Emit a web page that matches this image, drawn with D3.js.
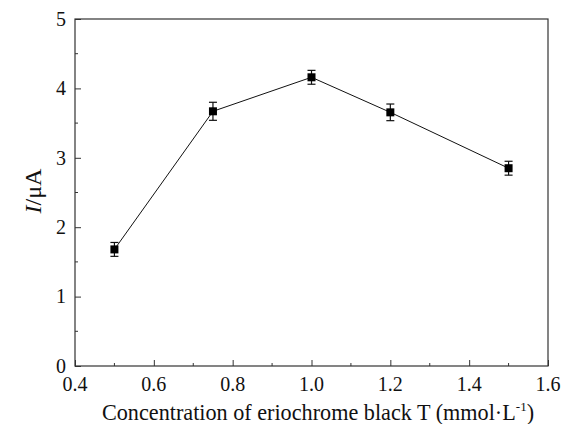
<!DOCTYPE html>
<html>
<head>
<meta charset="utf-8">
<script src="https://cdn.jsdelivr.net/npm/d3@7"></script>
<style>
  body { margin: 0; background: #fff; }
  svg { display: block; }
  .lbl { font-family: "Liberation Serif", serif; font-size: 20px; fill: #111; }
</style>
</head>
<body>
<script>
// concentration of EBT (mmol/L) and peak current (uA)
var conc = [0.5, 0.75, 1.0, 1.2, 1.5];
var current = [1.68, 3.67, 4.16, 3.655, 2.85];
var errs = [0.1, 0.13, 0.1, 0.12, 0.1];
var xTicks = [0.4, 0.6, 0.8, 1.0, 1.2, 1.4, 1.6];
var yTicks = [0, 1, 2, 3, 4, 5];

var width = 570,
    height = 424,
    margin = {top: 19, right: 22, bottom: 58, left: 75};

var x = d3.scaleLinear().domain([0.4, 1.6]).range([margin.left, width - margin.right]);
var y = d3.scaleLinear().domain([0, 5]).range([height - margin.bottom, margin.top]);

var svg = d3.select("body").append("svg")
    .attr("width", width)
    .attr("height", height);

var axisColor = "#333";

// frame
svg.append("rect")
    .attr("x", x(0.4))
    .attr("y", y(5))
    .attr("width", x(1.6) - x(0.4))
    .attr("height", y(0) - y(5))
    .attr("fill", "none")
    .attr("stroke", axisColor)
    .attr("stroke-width", 1.2);

// x axis ticks (inward), labels drawn separately
var xAxis = svg.append("g")
    .attr("transform", "translate(0," + y(0) + ")")
    .call(d3.axisBottom(x).tickValues(xTicks).tickSize(-6).tickFormat(""));
xAxis.select(".domain").remove();
xAxis.selectAll("line").attr("stroke", axisColor);

svg.append("g").selectAll("text")
    .data(xTicks)
    .enter().append("text")
    .attr("class", "lbl")
    .attr("x", function(d) { return x(d); })
    .attr("y", y(0) + 25)
    .attr("text-anchor", "middle")
    .text(d3.format(".1f"));

var xMinor = d3.range(0.5, 1.6, 0.2);
svg.append("g").selectAll("line")
    .data(xMinor)
    .enter().append("line")
    .attr("x1", function(d) { return x(d); })
    .attr("x2", function(d) { return x(d); })
    .attr("y1", y(0))
    .attr("y2", y(0) - 3)
    .attr("stroke", axisColor);

// y axis
var yAxis = svg.append("g")
    .attr("transform", "translate(" + x(0.4) + ",0)")
    .call(d3.axisLeft(y).tickValues(yTicks).tickSize(-6).tickFormat(""));
yAxis.select(".domain").remove();
yAxis.selectAll("line").attr("stroke", axisColor);

svg.append("g").selectAll("text")
    .data(yTicks)
    .enter().append("text")
    .attr("class", "lbl")
    .attr("x", x(0.4) - 9)
    .attr("y", function(d) { return y(d); })
    .attr("dy", "0.34em")
    .attr("text-anchor", "end")
    .text(d3.format("d"));

var yMinor = d3.range(0.5, 5, 1);
svg.append("g").selectAll("line")
    .data(yMinor)
    .enter().append("line")
    .attr("x1", x(0.4))
    .attr("x2", x(0.4) + 3)
    .attr("y1", function(d) { return y(d); })
    .attr("y2", function(d) { return y(d); })
    .attr("stroke", axisColor);

var pts = conc.map(function(c, i) { return {x: c, y: current[i], e: errs[i]}; });

// connecting line
var line = d3.line()
    .x(function(d) { return x(d.x); })
    .y(function(d) { return y(d.y); });

svg.append("path")
    .datum(pts)
    .attr("d", line)
    .attr("fill", "none")
    .attr("stroke", "#111")
    .attr("stroke-width", 1);

// error bars
var eb = svg.append("g").selectAll("g")
    .data(pts)
    .enter().append("g");

eb.append("line")
    .attr("x1", function(d) { return x(d.x); })
    .attr("x2", function(d) { return x(d.x); })
    .attr("y1", function(d) { return y(d.y - d.e); })
    .attr("y2", function(d) { return y(d.y + d.e); })
    .attr("stroke", "#111")
    .attr("stroke-width", 1.2);

[-1, 1].forEach(function(s) {
  eb.append("line")
    .attr("x1", function(d) { return x(d.x) - 4; })
    .attr("x2", function(d) { return x(d.x) + 4; })
    .attr("y1", function(d) { return y(d.y + s * d.e); })
    .attr("y2", function(d) { return y(d.y + s * d.e); })
    .attr("stroke", "#111")
    .attr("stroke-width", 1.2);
});

// square markers
svg.append("g").selectAll("rect")
    .data(pts)
    .enter().append("rect")
    .attr("x", function(d) { return x(d.x) - 4; })
    .attr("y", function(d) { return y(d.y) - 4; })
    .attr("width", 8)
    .attr("height", 8)
    .attr("fill", "#000");

// axis titles
var xt = svg.append("text")
    .attr("class", "lbl")
    .attr("x", 318)
    .attr("y", 420)
    .attr("text-anchor", "middle")
    .style("font-size", "22.2px");
xt.append("tspan").text("Concentration of eriochrome black T (mmol\u00b7L");
xt.append("tspan").attr("dy", -9).style("font-size", "13px").text("-1");
xt.append("tspan").attr("dy", 9).text(")");

var yt = svg.append("text")
    .attr("class", "lbl")
    .attr("transform", "translate(41,191) rotate(-90)")
    .attr("text-anchor", "middle")
    .style("font-size", "24px");
yt.append("tspan").style("font-style", "italic").text("I");
yt.append("tspan").text("/\u03bcA");
</script>
</body>
</html>
